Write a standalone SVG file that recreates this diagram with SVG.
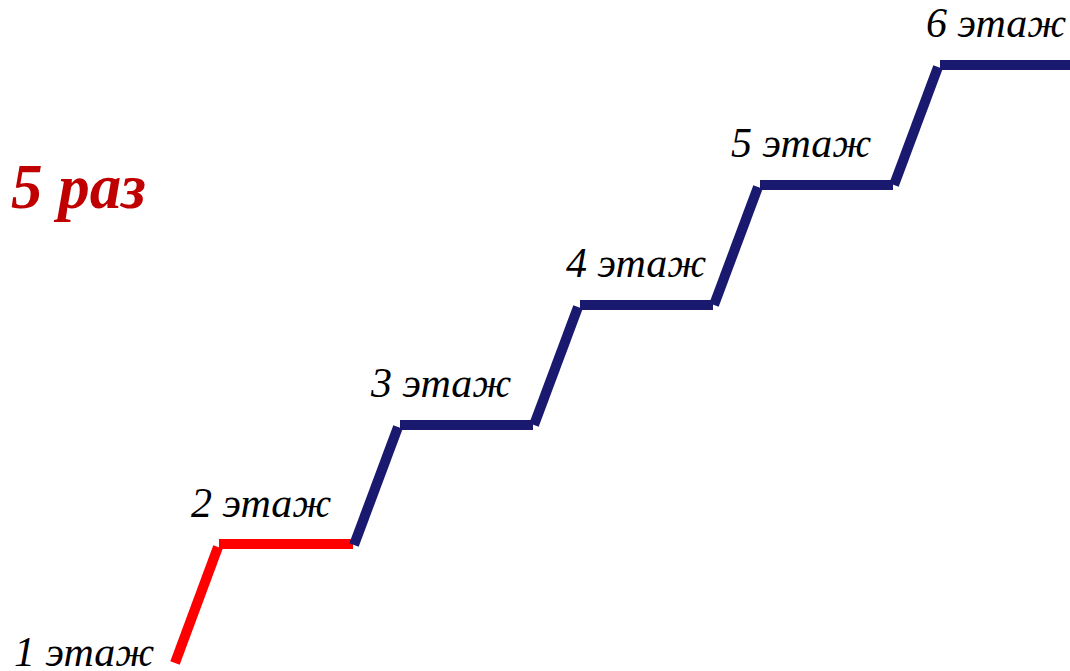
<svg xmlns="http://www.w3.org/2000/svg" width="1070" height="671" viewBox="0 0 1070 671">
<style>
.lbl{font-family:'Liberation Serif','Times New Roman',serif;font-style:italic;font-size:42px;fill:#000}
.big{font-family:'Liberation Serif','Times New Roman',serif;font-style:italic;font-weight:bold;font-size:63px;fill:#C00000}
.red{stroke:#FF0000;stroke-width:10;fill:none}
.blue{stroke:#191970;stroke-width:10;fill:none}
</style>
<rect width="1070" height="671" fill="#fff"/>
<g id="title"><text class="big" x="11" y="208">5 раз</text></g>
<g id="connectors">
<line class="red" x1="175" y1="663" x2="218" y2="547"/>
<line class="red" x1="219" y1="544" x2="353" y2="544"/>
<line class="blue" x1="354" y1="545" x2="398" y2="427"/>
<line class="blue" x1="400" y1="425" x2="533" y2="425"/>
<line class="blue" x1="534" y1="425" x2="578" y2="307"/>
<line class="blue" x1="580" y1="305" x2="713" y2="305"/>
<line class="blue" x1="714" y1="305" x2="758" y2="187"/>
<line class="blue" x1="760" y1="185" x2="893" y2="185"/>
<line class="blue" x1="894" y1="185" x2="938" y2="67"/>
<line class="blue" x1="940" y1="65" x2="1070" y2="65"/>
</g>
<g id="floor1"><text class="lbl" x="14" y="666">1 этаж</text></g>
<g id="floor2"><text class="lbl" x="191" y="517">2 этаж</text></g>
<g id="floor3"><text class="lbl" x="371" y="397">3 этаж</text></g>
<g id="floor4"><text class="lbl" x="566" y="277">4 этаж</text></g>
<g id="floor5"><text class="lbl" x="731" y="157">5 этаж</text></g>
<g id="floor6"><text class="lbl" x="926" y="37">6 этаж</text></g>
</svg>
